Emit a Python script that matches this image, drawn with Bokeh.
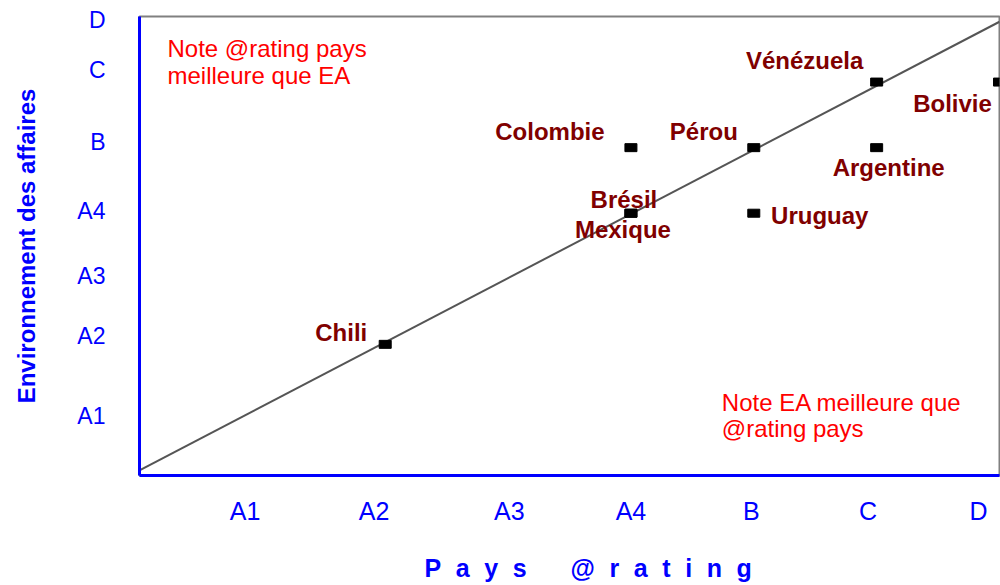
from bokeh.plotting import figure
from bokeh.models import Range1d, FixedTicker, ColumnDataSource
from bokeh.core.properties import value
from bokeh.embed import file_html
from bokeh.resources import INLINE

# ---- data ----
grades = ["A1", "A2", "A3", "A4", "B", "C", "D"]
countries = ["Chili", "Brésil", "Mexique", "Colombie", "Pérou", "Uruguay",
             "Vénézuela", "Argentine", "Bolivie"]
pays_rating = ["A2", "A4", "A4", "A4", "B", "B", "C", "C", "D"]
env_affaires = ["A2", "A4", "A4", "B", "B", "A4", "C", "B", "C"]
diag_x = [-0.05, 7.0]
diag_y = [0.03, 6.92]
note_top = ["Note @rating pays", "meilleure que EA"]
note_bottom = ["Note EA meilleure que", "@rating pays"]

# ---- layout (label offsets in pixels, tick placement) ----
label_dx = [-44, -7, -8, -81, -50, 66, -72, 12, -47]
label_dy = [-12, -14, 16, -16, -16, 2, -22, 20, 21]
x_tick_pos = [0.86, 1.91, 3.01, 4.00, 4.98, 5.93, 6.83]
y_tick_pos = [0.90, 2.12, 3.05, 4.03, 5.08, 6.18, 6.95]

BLUE = "#0000ff"
RED = "#ff0000"
MAROON = "#800000"
FONT = "Liberation Sans"

gi = {g: i + 1 for i, g in enumerate(grades)}
xs = [gi[g] for g in pays_rating]
ys = [gi[g] for g in env_affaires]

p = figure(width=1000, height=585, output_backend="svg", toolbar_location=None,
           x_range=Range1d(0, 7), y_range=Range1d(0, 7),
           min_border_left=139, min_border_right=1, min_border_top=16,
           min_border_bottom=110)
p.background_fill_color = "white"
p.border_fill_color = "white"
p.outline_line_color = "#808080"
p.outline_line_width = 2
p.xgrid.visible = False
p.ygrid.visible = False

for ax in (p.xaxis[0], p.yaxis[0]):
    ax.axis_line_color = BLUE
    ax.axis_line_width = 3
    ax.major_tick_line_color = None
    ax.minor_tick_line_color = None
    ax.major_label_text_color = BLUE
    ax.major_label_text_font = FONT
    ax.axis_label_text_color = BLUE
    ax.axis_label_text_font_style = "bold"
    ax.axis_label_text_font = FONT

p.xaxis.ticker = FixedTicker(ticks=x_tick_pos)
p.xaxis.major_label_overrides = {t: g for t, g in zip(x_tick_pos, grades)}
p.xaxis.major_label_text_font_size = "25px"
p.xaxis.major_label_standoff = 15
sp = "\u2002\u200a"
p.xaxis.axis_label = "\u2002" * 3 + sp.join("Pays") + sp * 3 + sp.join("@rating")
p.xaxis.axis_label_text_font_size = "25px"
p.xaxis.axis_label_standoff = 26

p.yaxis.ticker = FixedTicker(ticks=y_tick_pos)
p.yaxis.major_label_overrides = {t: g for t, g in zip(y_tick_pos, grades)}
p.yaxis.major_label_text_font_size = "23px"
p.yaxis.major_label_standoff = 28
p.yaxis.axis_label = "Environnement des affaires"
p.yaxis.axis_label_text_font_size = "24px"
p.yaxis.axis_label_standoff = 34

# diagonal
p.line(diag_x, diag_y, line_color="#555555", line_width=2)

# markers
p.rect(xs, ys, width=12, height=8, width_units="screen", height_units="screen",
       fill_color="black", line_color="black")

src = ColumnDataSource(dict(x=xs, y=ys, name=countries, dx=label_dx, dy=label_dy))
p.text(x="x", y="y", text="name", x_offset="dx", y_offset="dy", source=src,
       text_align="center", text_baseline="alphabetic",
       text_color=MAROON, text_font=value(FONT), text_font_style="bold",
       text_font_size="24px")

# annotation notes
p.text(x=[0.228, 0.228], y=[6.51, 6.10], text=note_top, text_align="left",
       text_baseline="alphabetic", text_color=RED, text_font=value(FONT),
       text_font_size="24px")
p.text(x=[4.74, 4.74], y=[1.113, 0.717], text=note_bottom, text_align="left",
       text_baseline="alphabetic", text_color=RED, text_font=value(FONT),
       text_font_size="24px")

open("out.html", "w").write(file_html(p, INLINE))
